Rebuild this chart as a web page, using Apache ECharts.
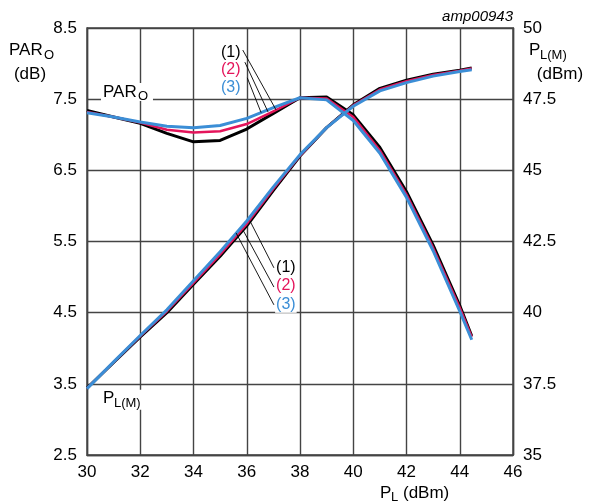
<!DOCTYPE html>
<html>
<head>
<meta charset="utf-8">
<script src="https://cdn.jsdelivr.net/npm/echarts@6/dist/echarts.min.js"></script>
<style>
  html, body { margin: 0; padding: 0; background: #fff; }
  #chart { width: 594px; height: 503px; }
</style>
</head>
<body>
<div id="chart"></div>
<script>
// Load power P_L (dBm) at which the curves were measured
const loadPower = [30, 31, 32, 33, 34, 35, 36, 37, 38, 39, 40, 41, 42, 43, 44, 44.45];

// Output peak-to-average ratio PAR_O (dB), left axis
const parO1 = [7.34, 7.25, 7.16, 7.02, 6.90, 6.92, 7.08, 7.30, 7.52, 7.53, 7.28, 6.82, 6.20, 5.45, 4.60, 4.17];
const parO2 = [7.32, 7.25, 7.17, 7.07, 7.03, 7.05, 7.15, 7.33, 7.52, 7.51, 7.25, 6.78, 6.16, 5.41, 4.57, 4.16];
const parO3 = [7.31, 7.25, 7.18, 7.12, 7.10, 7.13, 7.23, 7.38, 7.52, 7.49, 7.20, 6.74, 6.12, 5.37, 4.52, 4.12];

// Peak load power P_L(M) (dBm), right axis
const plM1 = [37.35, 38.25, 39.15, 40.00, 41.00, 41.98, 43.05, 44.30, 45.50, 46.50, 47.30, 47.88, 48.17, 48.38, 48.52, 48.60];
const plM2 = [37.34, 38.26, 39.18, 40.05, 41.05, 42.05, 43.12, 44.35, 45.52, 46.50, 47.28, 47.84, 48.13, 48.35, 48.50, 48.58];
const plM3 = [37.33, 38.27, 39.20, 40.10, 41.12, 42.14, 43.22, 44.42, 45.55, 46.50, 47.25, 47.79, 48.08, 48.31, 48.47, 48.53];

// Axis ranges and tick steps
const xRange = [30, 46], xStep = 2;
const parRange = [2.5, 8.5], parStep = 1;
const plRange = [35, 50], plStep = 2.5;

const curveColors = ['#000000', '#e4155b', '#3b8ed6'];
const curveWidths = [3, 2.5, 3];
const curveNames = ['(1)', '(2)', '(3)'];

const FONT = '"Liberation Sans", Arial, Helvetica, sans-serif';

function pairs(xs, ys) { return xs.map((x, i) => [x, ys[i]]); }

const chart = echarts.init(document.getElementById('chart'), null, { renderer: 'canvas' });

const gridColor = '#444444';
const gridWidth = 1.4;
const series = [];
[parO1, parO2, parO3].forEach((ys, i) => {
  series.push({
    type: 'line', yAxisIndex: 0, data: pairs(loadPower, ys), showSymbol: false,
    lineStyle: { color: curveColors[i], width: curveWidths[i], join: 'round' }, z: 3 + i, animation: false
  });
});
[plM1, plM2, plM3].forEach((ys, i) => {
  series.push({
    type: 'line', yAxisIndex: 1, data: pairs(loadPower, ys), showSymbol: false,
    lineStyle: { color: curveColors[i], width: curveWidths[i], join: 'round' }, z: 3 + i, animation: false
  });
});

const tickLabel = { fontSize: 17, color: '#000', fontFamily: FONT };

chart.setOption({
  animation: false,
  backgroundColor: '#fff',
  grid: { left: 87, right: 81, top: 28, bottom: 48, show: true, borderColor: gridColor, borderWidth: gridWidth },
  xAxis: {
    type: 'value', min: xRange[0], max: xRange[1], interval: xStep,
    axisLine: { show: true, lineStyle: { color: gridColor, width: gridWidth } },
    axisTick: { show: false },
    splitLine: { show: true, lineStyle: { color: gridColor, width: gridWidth } },
    axisLabel: Object.assign({ margin: 9 }, tickLabel)
  },
  yAxis: [
    {
      type: 'value', min: parRange[0], max: parRange[1], interval: parStep,
      axisLine: { show: true, lineStyle: { color: gridColor, width: gridWidth } },
      axisTick: { show: false },
      splitLine: { show: true, lineStyle: { color: gridColor, width: gridWidth } },
      axisLabel: Object.assign({ margin: 10, formatter: v => v.toFixed(1) }, tickLabel)
    },
    {
      type: 'value', position: 'right', min: plRange[0], max: plRange[1], interval: plStep,
      axisLine: { show: true, lineStyle: { color: gridColor, width: gridWidth } },
      axisTick: { show: false },
      splitLine: { show: false },
      axisLabel: Object.assign({ margin: 10, formatter: v => (Number.isInteger(v) ? String(v) : v.toFixed(1)) }, tickLabel)
    }
  ],
  series: series
});

// ---- annotations (positions in data units of x / left axis) ----
const toPx = p => chart.convertToPixel({ xAxisIndex: 0, yAxisIndex: 0 }, p);

// curve labels and their leader lines
const upperLabels = [[35.40, 8.15], [35.40, 7.91], [35.40, 7.66]];
const upperLeaders = [
  [[35.85, 8.19], [37.10, 7.35]],
  [[35.93, 8.02], [36.80, 7.32]],
  [[36.02, 7.80], [36.54, 7.31]]
];
const lowerLabels = [[37.47, 5.13], [37.47, 4.875], [37.47, 4.61]];
const lowerLeaders = [
  [[37.02, 5.13], [36.12, 5.79]],
  [[37.02, 4.86], [35.86, 5.66]],
  [[37.02, 4.61], [35.60, 5.62]]
];
const parOTag = [30.6, 7.60];
const plMTag = [30.6, 3.29];

function label(x, y, main, sub, size, subSize, subDx, subDy, extra) {
  const out = [];
  out.push({ type: 'text', x: x, y: y, z: 20,
    style: Object.assign({ text: main, font: size + 'px ' + FONT, fill: '#000', textVerticalAlign: 'middle' }, extra || {}) });
  out.push({ type: 'text', x: x + subDx, y: y + subDy, z: 20,
    style: { text: sub, font: subSize + 'px ' + FONT, fill: '#000', textVerticalAlign: 'middle' } });
  return out;
}

function draw() {
  let g = [];
  upperLeaders.concat(lowerLeaders).forEach(seg => {
    const a = toPx(seg[0]), b = toPx(seg[1]);
    g.push({ type: 'line', shape: { x1: a[0], y1: a[1], x2: b[0], y2: b[1] },
      style: { stroke: '#000', lineWidth: 0.9 }, z: 15 });
  });
  upperLabels.concat(lowerLabels).forEach((p, k) => {
    const i = k % 3;
    const q = toPx(p);
    g.push({ type: 'text', x: q[0], y: q[1], z: 21,
      style: { text: curveNames[i], font: '16px ' + FONT, fill: curveColors[i],
        textAlign: 'center', textVerticalAlign: 'middle', backgroundColor: '#fff', padding: [0, 1] } });
  });

  // in-plot curve names (white box hides the grid behind them)
  const pp = toPx(parOTag);
  g.push({ type: 'rect', shape: { x: pp[0] - 2, y: pp[1] - 9, width: 52, height: 18 }, style: { fill: '#fff' }, z: 19 });
  g = g.concat(label(pp[0], pp[1], 'PAR', 'O', 17, 13, 35, 4));

  const lp = toPx(plMTag);
  g.push({ type: 'rect', shape: { x: lp[0] - 2, y: lp[1] - 9, width: 46, height: 20 }, style: { fill: '#fff' }, z: 19 });
  g = g.concat(label(lp[0], lp[1], 'P', 'L(M)', 17, 13, 11, 5));

  // axis titles
  g = g.concat(label(9, 50, 'PAR', 'O', 17, 13, 35, 5));
  g.push({ type: 'text', x: 30, y: 74, style: { text: '(dB)', font: '17px ' + FONT, fill: '#000', textAlign: 'center', textVerticalAlign: 'middle' } });

  g = g.concat(label(529, 50, 'P', 'L(M)', 17, 13, 11, 5));
  g.push({ type: 'text', x: 560, y: 74, style: { text: '(dBm)', font: '17px ' + FONT, fill: '#000', textAlign: 'center', textVerticalAlign: 'middle' } });

  g = g.concat(label(380, 493, 'P', 'L', 17, 13, 11, 4));
  g.push({ type: 'text', x: 403, y: 493, style: { text: '(dBm)', font: '17px ' + FONT, fill: '#000', textVerticalAlign: 'middle' } });

  g.push({ type: 'text', x: 513, y: 17, style: { text: 'amp00943', font: 'italic 15px ' + FONT, fill: '#000', textAlign: 'right', textVerticalAlign: 'middle' } });

  chart.setOption({ graphic: { elements: g } });
}
draw();
</script>
</body>
</html>
